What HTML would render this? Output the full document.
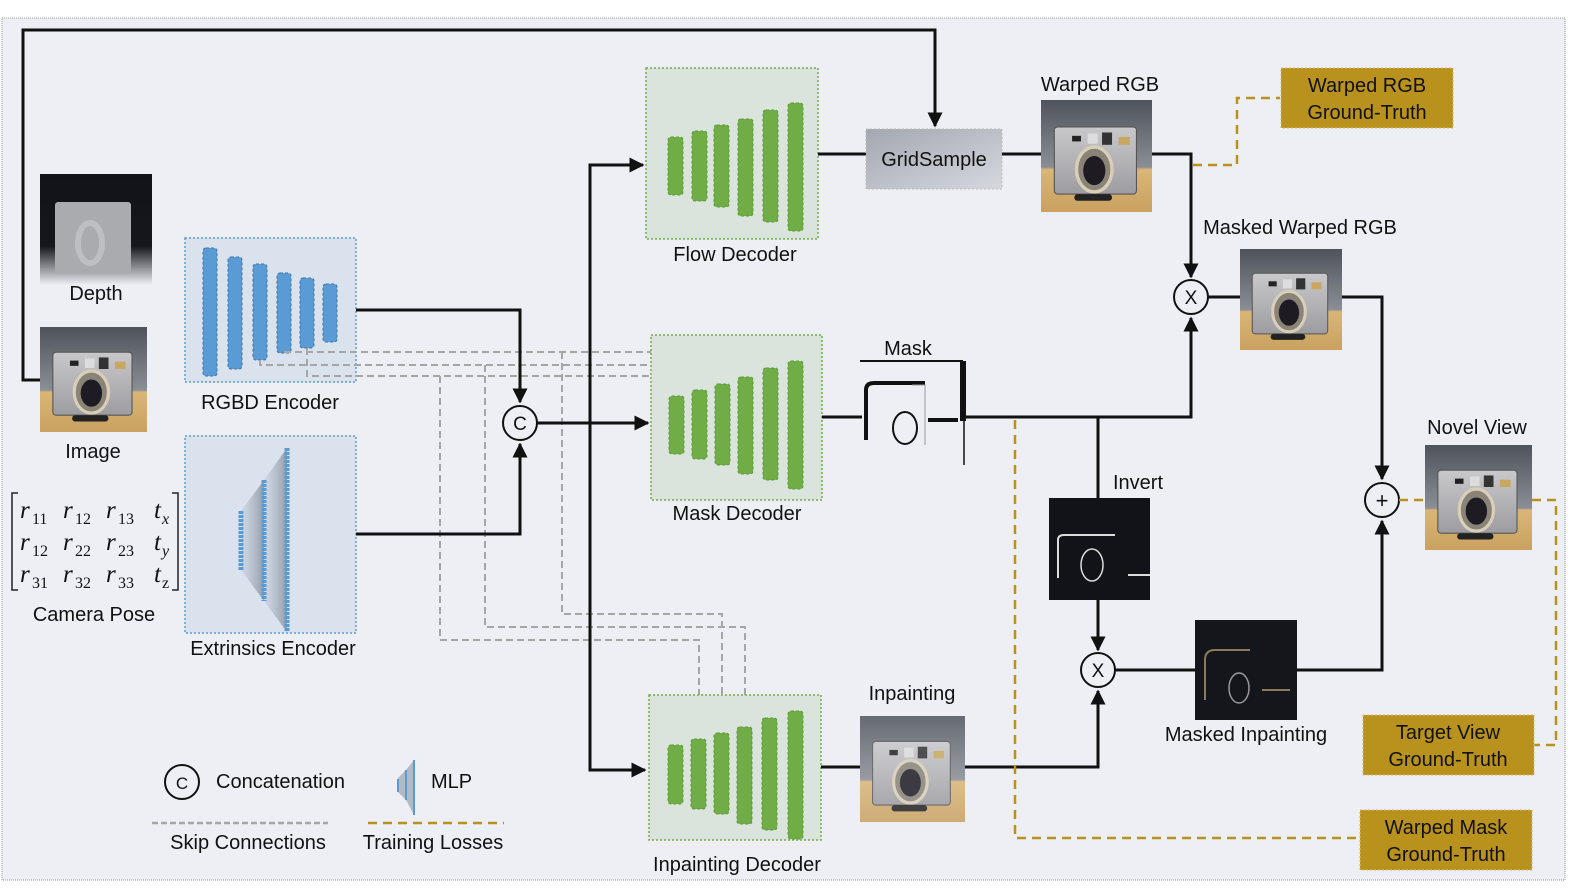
<!DOCTYPE html>
<html><head><meta charset="utf-8"><style>
html,body{margin:0;padding:0;background:#fff;}
svg{display:block;font-family:"Liberation Sans",sans-serif;}
</style></head><body>
<svg width="1578" height="888" viewBox="0 0 1578 888" xmlns="http://www.w3.org/2000/svg">
<defs>
<linearGradient id="bgc" x1="0" y1="0" x2="0" y2="1"><stop offset="0" stop-color="#4f545c"/><stop offset="0.6" stop-color="#8a8e95"/><stop offset="0.62" stop-color="#d9b677"/><stop offset="1" stop-color="#c9a160"/></linearGradient>
<linearGradient id="body" x1="0" y1="0" x2="0" y2="1"><stop offset="0" stop-color="#c9c9cc"/><stop offset="1" stop-color="#9d9ca0"/></linearGradient>
<linearGradient id="gs" x1="0" y1="0" x2="1" y2="1"><stop offset="0" stop-color="#a3a7b0"/><stop offset="1" stop-color="#d6d8de"/></linearGradient>
<linearGradient id="dep" x1="0" y1="0" x2="0" y2="1"><stop offset="0" stop-color="#111318"/><stop offset="0.65" stop-color="#15171c"/><stop offset="1" stop-color="#edeff4"/></linearGradient>
<linearGradient id="fan" x1="0" y1="0" x2="1" y2="0"><stop offset="0" stop-color="#b8c2ce" stop-opacity="0.3"/><stop offset="1" stop-color="#5a6472" stop-opacity="0.55"/></linearGradient>
<g id="cam">
<rect x="0" y="0" width="100" height="100" fill="url(#bgc)"/>
<rect x="12" y="24" width="74" height="60" rx="3" fill="url(#body)" stroke="#555" stroke-width="1"/>
<rect x="28" y="32" width="8" height="5" fill="#222"/><rect x="42" y="30" width="9" height="9" fill="#ddd"/><rect x="55" y="29" width="9" height="11" fill="#333"/><rect x="70" y="33" width="10" height="7" fill="#c8a860"/>
<ellipse cx="48" cy="62" rx="16" ry="20" fill="#8a8378" stroke="#d9cfb8" stroke-width="3"/>
<ellipse cx="48" cy="63" rx="10" ry="13" fill="#1e1c22"/>
<rect x="30" y="84" width="34" height="6" rx="3" fill="#222"/>
</g>
<marker id="ar" viewBox="0 0 10 10" refX="9" refY="5" markerWidth="5" markerHeight="5" orient="auto"><path d="M0,0 L10,5 L0,10 z" fill="#111"/></marker>
</defs>
<rect x="0" y="0" width="1578" height="888" fill="#fff"/>
<rect x="2" y="18" width="1563" height="862" fill="#edeff4" stroke="#999" stroke-width="1" stroke-dasharray="1,1"/>

<path d="M40,380 H23 V30 H935 V126" fill="none" stroke="#111" stroke-width="3" marker-end="url(#ar)"/>

<rect x="40" y="174" width="112" height="111" fill="url(#dep)"/>
<rect x="55" y="202" width="76" height="72" rx="3" fill="#a9abae"/>
<ellipse cx="90" cy="243" rx="12" ry="20" fill="none" stroke="#bdbfc2" stroke-width="6"/>
<text x="96" y="300" font-size="20" text-anchor="middle" fill="#111">Depth</text>
<use href="#cam" transform="translate(40,327) scale(1.07,1.05)"/>
<text x="93" y="458" font-size="20" text-anchor="middle" fill="#111">Image</text>

<path d="M18,493 H12 V590 H18 M172,493 H178 V590 H172" fill="none" stroke="#222" stroke-width="1.5"/>
<g font-family="Liberation Serif,serif" font-style="italic" font-size="25" fill="#111">
<text x="20" y="518">r</text><text x="63" y="518">r</text><text x="106" y="518">r</text><text x="154" y="518">t</text>
<text x="20" y="550">r</text><text x="63" y="550">r</text><text x="106" y="550">r</text><text x="154" y="550">t</text>
<text x="20" y="582">r</text><text x="63" y="582">r</text><text x="106" y="582">r</text><text x="154" y="582">t</text>
</g>
<g font-family="Liberation Serif,serif" font-size="16" fill="#111">
<text x="32" y="524">11</text><text x="75" y="524">12</text><text x="118" y="524">13</text><text x="162" y="524" font-style="italic">x</text>
<text x="32" y="556">12</text><text x="75" y="556">22</text><text x="118" y="556">23</text><text x="162" y="556" font-style="italic">y</text>
<text x="32" y="588">31</text><text x="75" y="588">32</text><text x="118" y="588">33</text><text x="162" y="588">z</text>
</g>
<text x="94" y="621" font-size="20" text-anchor="middle" fill="#111">Camera Pose</text>

<rect x="185" y="238" width="171" height="144" fill="#d9e2ed" stroke="#5b9bd5" stroke-width="1.5" stroke-dasharray="2,2"/>
<g fill="#5b9bd5" stroke="#3f74a8" stroke-width="1" stroke-dasharray="3,2">
<rect x="203" y="248" width="14" height="128" rx="3"/>
<rect x="228" y="257" width="14" height="112" rx="3"/>
<rect x="253" y="264" width="14" height="96" rx="3"/>
<rect x="277" y="273" width="14" height="80" rx="3"/>
<rect x="300" y="278" width="14" height="70" rx="3"/>
<rect x="323" y="284" width="14" height="58" rx="3"/>
</g>
<text x="270" y="409" font-size="20" text-anchor="middle" fill="#111">RGBD Encoder</text>

<rect x="185" y="436" width="171" height="197" fill="#d9e2ed" stroke="#5b9bd5" stroke-width="1.5" stroke-dasharray="2,2"/>
<path d="M241,511 L264,480 L264,601 L241,570 z" fill="url(#fan)"/>
<path d="M264,480 L287,448 L287,632 L264,601 z" fill="url(#fan)"/>
<line x1="241" y1="511" x2="241" y2="570" stroke="#5b9bd5" stroke-width="5" stroke-dasharray="3,1"/>
<line x1="264" y1="480" x2="264" y2="601" stroke="#5b9bd5" stroke-width="5" stroke-dasharray="3,1"/>
<line x1="287" y1="448" x2="287" y2="632" stroke="#5b9bd5" stroke-width="5" stroke-dasharray="3,1"/>
<text x="273" y="655" font-size="20" text-anchor="middle" fill="#111">Extrinsics Encoder</text>

<g fill="none" stroke="#a6a6a6" stroke-width="2" stroke-dasharray="7,4">
<path d="M285,353 V352 H722 V384"/>
<path d="M260,360 V365 H745 V377"/>
<path d="M307,348 V376 H699 V390"/>
<path d="M562,352 V614 H722 V733"/>
<path d="M485,365 V627 H745 V727"/>
<path d="M440,376 V640 H699 V739"/>
</g>

<path d="M356,310 H520 V402" fill="none" stroke="#111" stroke-width="3" marker-end="url(#ar)"/>
<path d="M356,534 H520 V444" fill="none" stroke="#111" stroke-width="3" marker-end="url(#ar)"/>
<circle cx="520" cy="423" r="17" fill="#edeff4" stroke="#111" stroke-width="2"/>
<text x="520" y="430" font-size="19" text-anchor="middle" fill="#111">C</text>
<path d="M537,423 H648" fill="none" stroke="#111" stroke-width="3" marker-end="url(#ar)"/>
<path d="M643,165 H590 V770 H643" fill="none" stroke="#111" stroke-width="3"/>
<path d="M600,165 H643" stroke="#111" stroke-width="3" marker-end="url(#ar)"/>
<path d="M600,770 H645" stroke="#111" stroke-width="3" marker-end="url(#ar)"/>

<g>
<rect x="646" y="68" width="172" height="171" fill="#dae4dc" stroke="#70ad47" stroke-width="1.5" stroke-dasharray="2,2"/>
<g fill="#70ad47" stroke="#5e9a3a" stroke-dasharray="3,2">
<rect x="668" y="137" width="15" height="58" rx="3"/><rect x="692" y="131" width="15" height="70" rx="3"/><rect x="714" y="125" width="15" height="82" rx="3"/><rect x="738" y="119" width="15" height="97" rx="3"/><rect x="763" y="110" width="15" height="112" rx="3"/><rect x="788" y="103" width="15" height="128" rx="3"/>
</g>
<text x="735" y="261" font-size="20" text-anchor="middle" fill="#111">Flow Decoder</text>
</g>
<g>
<rect x="651" y="335" width="171" height="165" fill="#dae4dc" stroke="#70ad47" stroke-width="1.5" stroke-dasharray="2,2"/>
<g fill="#70ad47" stroke="#5e9a3a" stroke-dasharray="3,2">
<rect x="669" y="396" width="15" height="58" rx="3"/><rect x="692" y="390" width="15" height="69" rx="3"/><rect x="715" y="384" width="15" height="81" rx="3"/><rect x="738" y="377" width="15" height="97" rx="3"/><rect x="763" y="368" width="15" height="112" rx="3"/><rect x="788" y="361" width="15" height="128" rx="3"/>
</g>
<text x="737" y="520" font-size="20" text-anchor="middle" fill="#111">Mask Decoder</text>
</g>
<g>
<rect x="649" y="695" width="172" height="145" fill="#dae4dc" stroke="#70ad47" stroke-width="1.5" stroke-dasharray="2,2"/>
<g fill="#70ad47" stroke="#5e9a3a" stroke-dasharray="3,2">
<rect x="668" y="745" width="15" height="59" rx="3"/><rect x="691" y="739" width="15" height="70" rx="3"/><rect x="714" y="733" width="15" height="81" rx="3"/><rect x="737" y="727" width="15" height="97" rx="3"/><rect x="762" y="718" width="15" height="112" rx="3"/><rect x="788" y="711" width="15" height="128" rx="3"/>
</g>
<text x="737" y="871" font-size="20" text-anchor="middle" fill="#111">Inpainting Decoder</text>
</g>

<path d="M818,154 H871" stroke="#111" stroke-width="3"/>
<rect x="866" y="129" width="136" height="60" fill="url(#gs)" stroke="#bbb" stroke-dasharray="2,2"/>
<text x="934" y="166" font-size="20" text-anchor="middle" fill="#111">GridSample</text>
<path d="M1002,154 H1041" stroke="#111" stroke-width="3"/>

<use href="#cam" transform="translate(1041,100) scale(1.11,1.12)"/>
<text x="1100" y="91" font-size="20" text-anchor="middle" fill="#111">Warped RGB</text>
<path d="M1152,154 H1191 V277" fill="none" stroke="#111" stroke-width="3" marker-end="url(#ar)"/>
<path d="M1193,165 H1237 V98 H1280" fill="none" stroke="#b8921c" stroke-width="2.5" stroke-dasharray="9,6"/>
<rect x="1281" y="68" width="172" height="60" fill="#b8921c" stroke="#d7bd70" stroke-dasharray="2,2"/>
<text x="1367" y="92" font-size="20" text-anchor="middle" fill="#111">Warped RGB</text>
<text x="1367" y="119" font-size="20" text-anchor="middle" fill="#111">Ground-Truth</text>

<circle cx="1191" cy="297" r="17" fill="#edeff4" stroke="#111" stroke-width="2"/>
<text x="1191" y="304" font-size="19" text-anchor="middle" fill="#111">X</text>
<path d="M1208,297 H1240" stroke="#111" stroke-width="3"/>
<use href="#cam" transform="translate(1240,249) scale(1.02,1.01)"/>
<text x="1300" y="234" font-size="20" text-anchor="middle" fill="#111">Masked Warped RGB</text>
<path d="M1342,297 H1382 V479" fill="none" stroke="#111" stroke-width="3" marker-end="url(#ar)"/>

<path d="M822,417 H862" stroke="#111" stroke-width="3"/>
<text x="908" y="355" font-size="20" text-anchor="middle" fill="#111">Mask</text>
<path d="M860,361 H963" fill="none" stroke="#111" stroke-width="2"/>
<rect x="960" y="361" width="6" height="60" fill="#111"/>
<line x1="964" y1="420" x2="964" y2="465" stroke="#111" stroke-width="1.5"/>
<path d="M866,440 V390 Q866,383 874,383 H925" fill="none" stroke="#111" stroke-width="4"/>
<path d="M912,385 H925 V445" fill="none" stroke="#999" stroke-width="1"/>
<path d="M928,420 H958" fill="none" stroke="#111" stroke-width="4"/>
<ellipse cx="905" cy="428" rx="12" ry="16" fill="none" stroke="#111" stroke-width="2"/>
<path d="M965,417 H1191 V318" fill="none" stroke="#111" stroke-width="3" marker-end="url(#ar)"/>
<path d="M1098,417 V498" stroke="#111" stroke-width="3"/>

<rect x="1049" y="498" width="101" height="102" fill="#111318"/>
<path d="M1058,578 V540 Q1058,535 1064,535 H1115 M1128,575 H1150" fill="none" stroke="#ddd" stroke-width="2"/>
<ellipse cx="1092" cy="565" rx="11" ry="16" fill="none" stroke="#ddd" stroke-width="1.5"/>
<text x="1138" y="489" font-size="20" text-anchor="middle" fill="#111">Invert</text>
<path d="M1098,600 V650" stroke="#111" stroke-width="3" marker-end="url(#ar)"/>
<circle cx="1098" cy="670" r="17" fill="#edeff4" stroke="#111" stroke-width="2"/>
<text x="1098" y="677" font-size="19" text-anchor="middle" fill="#111">X</text>
<path d="M1115,670 H1195" stroke="#111" stroke-width="3"/>

<rect x="1195" y="620" width="102" height="100" fill="#15161b"/>
<path d="M1205,700 V660 Q1205,650 1215,650 H1250 M1262,690 H1290" fill="none" stroke="#8a7a5a" stroke-width="2"/>
<ellipse cx="1239" cy="688" rx="10" ry="15" fill="none" stroke="#999" stroke-width="1.5"/>
<text x="1246" y="741" font-size="20" text-anchor="middle" fill="#111">Masked Inpainting</text>
<path d="M1297,670 H1382 V521" fill="none" stroke="#111" stroke-width="3" marker-end="url(#ar)"/>

<path d="M821,767 H860" stroke="#111" stroke-width="3"/>
<use href="#cam" transform="translate(860,716) scale(1.05,1.06)" opacity="0.85"/>
<text x="912" y="700" font-size="20" text-anchor="middle" fill="#111">Inpainting</text>
<path d="M965,767 H1098 V691" fill="none" stroke="#111" stroke-width="3" marker-end="url(#ar)"/>

<circle cx="1382" cy="500" r="17" fill="#edeff4" stroke="#111" stroke-width="2"/>
<text x="1382" y="508" font-size="22" text-anchor="middle" fill="#111">+</text>
<use href="#cam" transform="translate(1425,445) scale(1.07,1.05)"/>
<text x="1477" y="434" font-size="20" text-anchor="middle" fill="#111">Novel View</text>

<g fill="none" stroke="#b8921c" stroke-width="2.5" stroke-dasharray="9,6">
<path d="M1399,500 H1425"/>
<path d="M1532,500 H1556 V745 H1534"/>
<path d="M1015,420 V838 H1360"/>
</g>
<rect x="1363" y="715" width="171" height="60" fill="#b8921c" stroke="#d7bd70" stroke-dasharray="2,2"/>
<text x="1448" y="739" font-size="20" text-anchor="middle" fill="#111">Target View</text>
<text x="1448" y="766" font-size="20" text-anchor="middle" fill="#111">Ground-Truth</text>
<rect x="1360" y="810" width="172" height="60" fill="#b8921c" stroke="#d7bd70" stroke-dasharray="2,2"/>
<text x="1446" y="834" font-size="20" text-anchor="middle" fill="#111">Warped Mask</text>
<text x="1446" y="861" font-size="20" text-anchor="middle" fill="#111">Ground-Truth</text>

<circle cx="182" cy="782" r="17" fill="none" stroke="#111" stroke-width="2"/>
<text x="182" y="789" font-size="17" text-anchor="middle" fill="#111">C</text>
<text x="216" y="788" font-size="20" fill="#111">Concatenation</text>
<path d="M398,778 L406,770 L406,800 L398,792 z M406,770 L414,760 L414,815 L406,800 z" fill="#8a96a4" opacity="0.6"/>
<line x1="398" y1="779" x2="398" y2="792" stroke="#5b9bd5" stroke-width="2"/>
<line x1="406" y1="770" x2="406" y2="800" stroke="#5b9bd5" stroke-width="2"/>
<line x1="414" y1="760" x2="414" y2="815" stroke="#5b9bd5" stroke-width="2"/>
<text x="431" y="788" font-size="20" fill="#111">MLP</text>
<line x1="152" y1="823" x2="328" y2="823" stroke="#a6a6a6" stroke-width="2.5" stroke-dasharray="6,3"/>
<text x="248" y="849" font-size="20" text-anchor="middle" fill="#111">Skip Connections</text>
<line x1="368" y1="823" x2="504" y2="823" stroke="#b8921c" stroke-width="2.5" stroke-dasharray="9,6"/>
<text x="433" y="849" font-size="20" text-anchor="middle" fill="#111">Training Losses</text>
</svg>
</body></html>
